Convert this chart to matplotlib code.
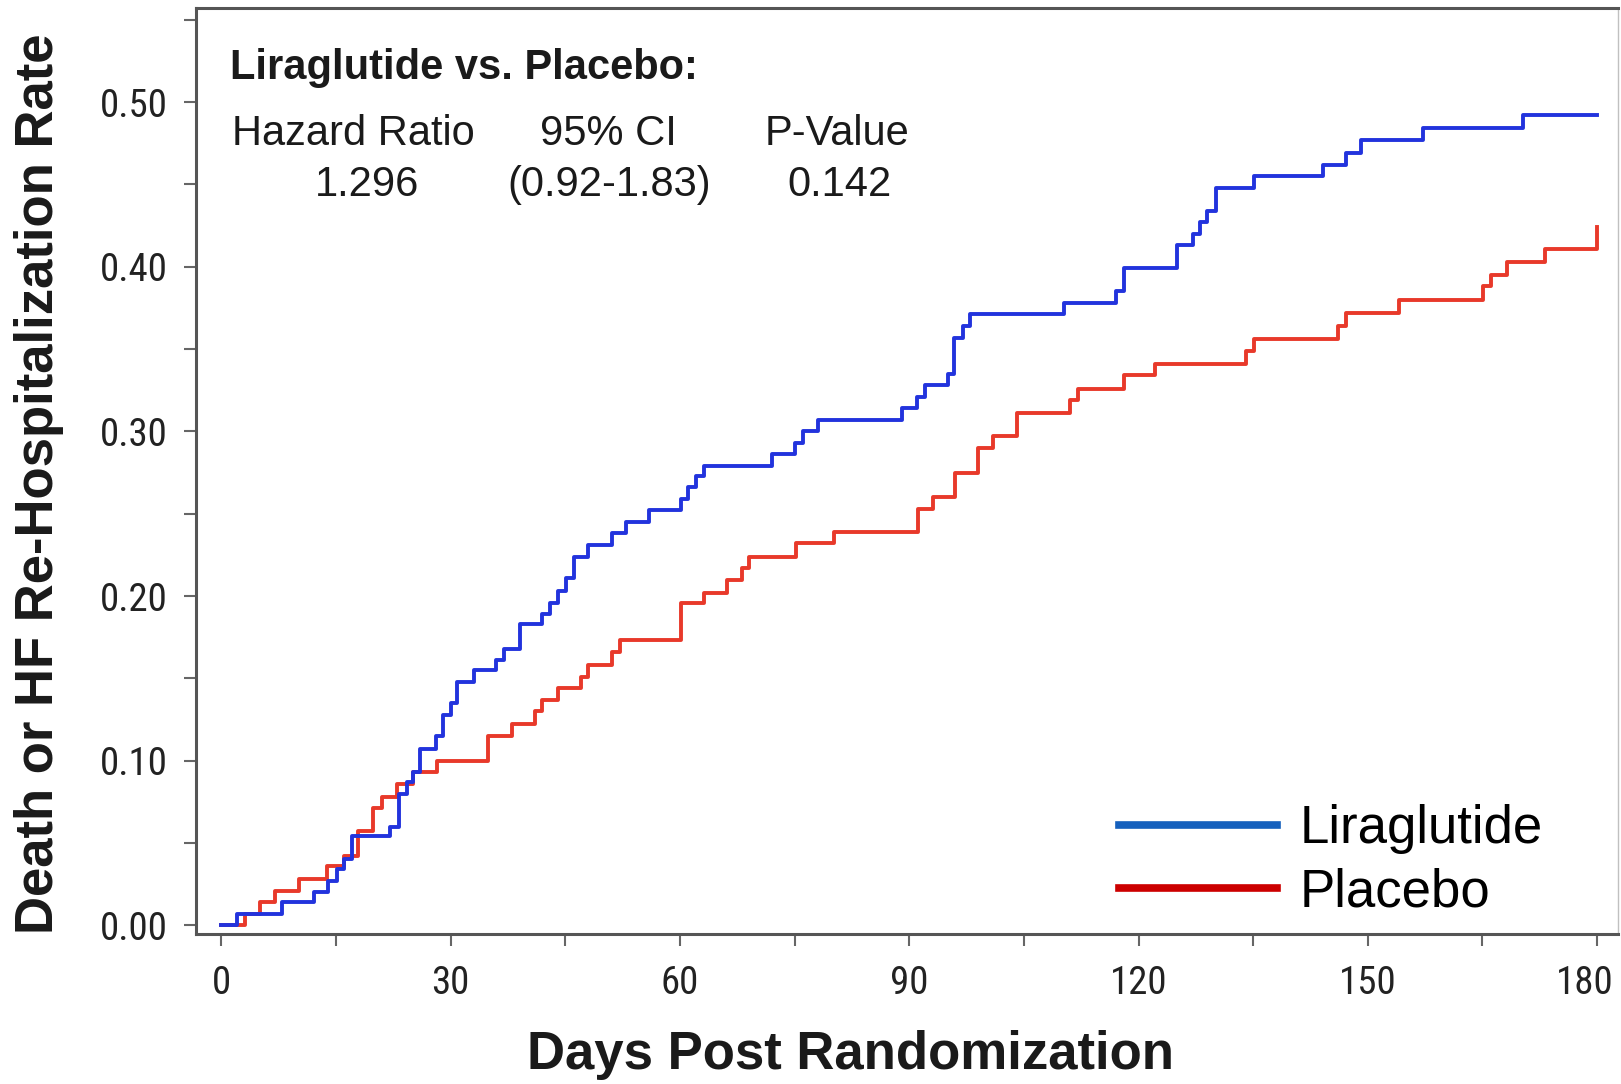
import matplotlib
matplotlib.use("Agg")
import matplotlib.pyplot as plt
from matplotlib.lines import Line2D
from matplotlib.ticker import MultipleLocator
from matplotlib.transforms import ScaledTranslation
from matplotlib import font_manager
import numpy as np

plt.rcParams['font.family'] = ['Liberation Sans', 'DejaVu Sans']

# Kaplan-Meier style cumulative event rate
lira_days = [0, 2.1, 8.0, 12.1, 13.9, 15.1, 16.0, 17.1, 22.1, 23.2, 24.3, 25.1, 26.0,
             28.1, 29.0, 30.0, 30.9, 33.0, 36.0, 37.0, 39.1, 42.0, 43.0, 44.1, 45.1,
             46.1, 48.0, 51.1, 53.0, 56.0, 60.1, 61.1, 62.1, 63.1, 72.1, 75.1, 76.1,
             78.1, 89.0, 91.0, 92.0, 95.1, 95.9, 97.1, 98.0, 110.2, 117.1, 118.1,
             125.1, 127.1, 128.0, 129.0, 130.1, 135.1, 144.1, 147.1, 149.1, 157.2,
             170.3, 180.0]
lira_rate = [0, 0.007, 0.014, 0.020, 0.027, 0.034, 0.040, 0.054, 0.060, 0.080, 0.087,
             0.093, 0.107, 0.115, 0.128, 0.135, 0.148, 0.155, 0.161, 0.168, 0.183,
             0.189, 0.196, 0.203, 0.211, 0.224, 0.231, 0.238, 0.245, 0.252, 0.259,
             0.266, 0.273, 0.279, 0.286, 0.293, 0.300, 0.307, 0.314, 0.321, 0.328,
             0.335, 0.357, 0.364, 0.371, 0.378, 0.385, 0.399, 0.413, 0.420, 0.427,
             0.434, 0.448, 0.455, 0.462, 0.469, 0.477, 0.484, 0.492, 0.492]

plac_days = [0, 3.1, 5.1, 7.0, 10.1, 13.8, 16.0, 17.9, 19.9, 21.0, 23.0, 25.1, 28.2,
             34.9, 38.0, 41.0, 41.9, 44.1, 47.0, 48.0, 51.1, 52.1, 60.1, 63.1, 66.1,
             68.1, 69.1, 75.2, 80.1, 91.1, 93.1, 96.0, 99.0, 101.0, 104.1, 111.1,
             112.1, 118.1, 122.1, 134.1, 135.1, 146.1, 147.1, 154.1, 165.1, 166.1,
             168.2, 173.2, 180.0]
plac_rate = [0, 0.007, 0.014, 0.021, 0.028, 0.036, 0.042, 0.057, 0.071, 0.078, 0.086,
             0.093, 0.100, 0.115, 0.122, 0.130, 0.137, 0.144, 0.151, 0.158, 0.166,
             0.173, 0.196, 0.202, 0.210, 0.217, 0.224, 0.232, 0.239, 0.253, 0.260,
             0.275, 0.290, 0.297, 0.311, 0.319, 0.326, 0.334, 0.341, 0.349, 0.356,
             0.364, 0.372, 0.380, 0.388, 0.395, 0.403, 0.411, 0.424]

x_ticks = [0, 30, 60, 90, 120, 150, 180]
y_ticks = [0.0, 0.1, 0.2, 0.3, 0.4, 0.5]

stats_head = ["Hazard Ratio", "95% CI", "P-Value"]
stats_vals = ["1.296", "(0.92-1.83)", "0.142"]

# narrow font for the tick numbers if one is around
names = set(f.name for f in font_manager.fontManager.ttflist)
narrow = [n for n in ['Liberation Sans Narrow', 'Roboto Condensed', 'Open Sans Condensed']
          if n in names]
dv_cond = [f for f in font_manager.fontManager.ttflist
           if f.name == 'DejaVu Sans' and f.stretch == 'condensed']
if narrow:
    tick_family, tick_stretch, tick_size = narrow[0], 'normal', 28
elif dv_cond:
    tick_family, tick_stretch, tick_size = 'DejaVu Sans', 'condensed', 26
else:
    tick_family, tick_stretch, tick_size = 'Liberation Sans', 'normal', 26

fig = plt.figure(figsize=(16.21, 10.84), dpi=100)
ax = fig.add_axes([0.1212, 0.1388, 0.8768, 0.8536])

ax.step(plac_days, plac_rate, where='post', color='#e8392a', lw=2.8)
ax.step(lira_days, lira_rate, where='post', color='#2233dd', lw=2.8)

ax.set_xlim(-3.25, 182.7)
ax.set_ylim(-0.005, 0.557)

ax.set_xticks(x_ticks)
ax.set_xticklabels([str(t) for t in x_ticks])
ax.set_yticks(y_ticks)
ax.set_yticklabels(["%.2f" % t for t in y_ticks])
ax.xaxis.set_minor_locator(MultipleLocator(15))
ax.yaxis.set_minor_locator(MultipleLocator(0.05))

ax.tick_params(which='both', direction='out', length=8.5, width=1.5, color='#666666')
ax.tick_params(axis='x', pad=14)
ax.tick_params(axis='y', pad=12)

for lab in ax.get_xticklabels() + ax.get_yticklabels():
    lab.set_family(tick_family)
    lab.set_stretch(tick_stretch)
    lab.set_fontsize(tick_size)
    lab.set_color('#222222')

# last day label sits a little left so it stays inside the picture
last = ax.get_xticklabels()[-1]
last.set_transform(last.get_transform() + ScaledTranslation(-0.12, 0, fig.dpi_scale_trans))

for s in ['left', 'bottom', 'top']:
    ax.spines[s].set_color('#555555')
    ax.spines[s].set_linewidth(2.2)
ax.spines['right'].set_color('#c0c0c0')
ax.spines['right'].set_linewidth(1)

ax.set_xlabel("Days Post Randomization", fontsize=38, fontweight='bold',
              color='#1a1a1a', va='center')
ax.xaxis.set_label_coords(0.460, -0.131)
ax.set_ylabel("Death or HF Re-Hospitalization Rate", fontsize=38, fontweight='bold',
              color='#1a1a1a', va='center')
ax.yaxis.set_label_coords(-0.111, 0.486)

ax.text(1.2, 0.521, "Liraglutide vs. Placebo:", fontsize=30, fontweight='bold',
        color='#1a1a1a', ha='left', va='center')
head_x = [17.3, 50.6, 80.5]
val_x = [19.1, 50.7, 80.9]
for hx, vx, h, v in zip(head_x, val_x, stats_head, stats_vals):
    ax.text(hx, 0.4805, h, fontsize=30, color='#1a1a1a', ha='center', va='center')
    ax.text(vx, 0.4495, v, fontsize=30, color='#1a1a1a', ha='center', va='center')

handles = [Line2D([], [], color='#1560bd', lw=5.5),
           Line2D([], [], color='#cc0000', lw=5.5)]
ax.legend(handles, ["Liraglutide", "Placebo"], loc='lower right',
          bbox_to_anchor=(0.947, 0.017), frameon=False, fontsize=38,
          handlelength=3.0, handletextpad=0.42, labelspacing=0.26,
          borderpad=0, borderaxespad=0)

fig.savefig("out.png", dpi=100)
